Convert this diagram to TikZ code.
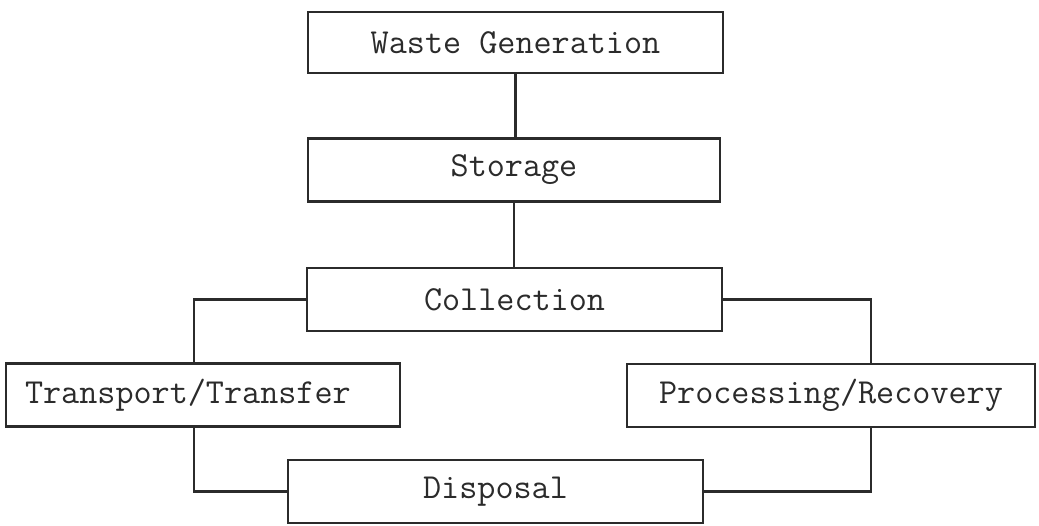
\documentclass[tikz,border=0pt]{standalone}
\usepackage{fontspec}
\usetikzlibrary{positioning}
\definecolor{ink}{HTML}{2B2B2B}
\tikzset{
  stage/.style={draw=ink, line width=1.4pt, fill=white, inner sep=0pt,
    minimum height=1.26cm, text=ink,
    font=\ttfamily\fontsize{20}{24}\selectfont},
  link/.style={draw=ink, line width=1.4pt}
}

\begin{document}
\begin{tikzpicture}[x=0.02cm, y=-0.02cm]
        \useasboundingbox (0,0) rectangle (1039,525);
        % Stages
        \node[stage, minimum width=8.3cm, minimum height=1.22cm] (gen) at (515.5,42.5) {Waste Generation};
        \node[stage, minimum width=8.24cm] (stor) at (514,170) {Storage};
        \node[stage, minimum width=8.3cm] (coll) at (514.5,299.5) {Collection};
        \node[stage, inner xsep=0.38cm, text width=7.12cm, align=left] (trans) at (203,395) {Transport/Transfer};
        \node[stage, minimum width=8.16cm] (proc) at (831,395.5) {Processing/Recovery};
        \node[stage, minimum width=8.3cm] (disp) at (495.5,491.5) {Disposal};
        % Connectors
        \draw[link] (gen.south) -- (gen.south |- stor.north);
        \draw[link] (stor.south) -- (stor.south |- coll.north);
        \draw[link] (coll.west) -| ([xshift=-0.18cm]trans.north);
        \draw[link] (coll.east) -| ([xshift=0.8cm]proc.north);
        \draw[link] ([xshift=-0.18cm]trans.south) |- (disp.west);
        \draw[link] ([xshift=0.8cm]proc.south) |- (disp.east);
\end{tikzpicture}
\end{document}
